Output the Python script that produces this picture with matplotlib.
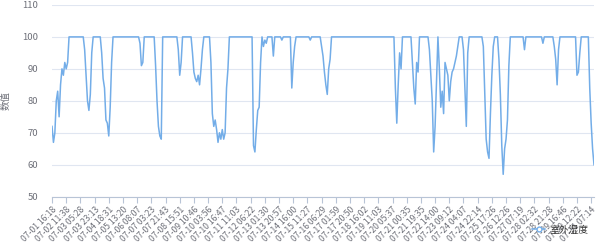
import matplotlib
matplotlib.use("Agg")
import matplotlib.pyplot as plt

plt.rcParams['font.family'] = ['Noto Sans CJK SC', 'DejaVu Sans']

# readings, 10 samples per labelled tick
humidity = [
    72, 67, 70, 80, 83, 75, 85, 90, 88, 92,
    90, 92, 100, 100, 100, 100, 100, 100, 100, 100,
    100, 100, 100, 96, 88, 80, 77, 82, 95, 100,
    100, 100, 100, 100, 100, 95, 87, 84, 74, 73,
    69, 78, 92, 100, 100, 100, 100, 100, 100, 100,
    100, 100, 100, 100, 100, 100, 100, 100, 100, 100,
    100, 100, 98, 91, 92, 100, 100, 100, 100, 100,
    100, 100, 100, 91, 80, 72, 69, 68, 100, 100,
    100, 100, 100, 100, 100, 100, 100, 100, 100, 96,
    88, 92, 100, 100, 100, 100, 100, 100, 100, 95,
    89, 87, 86, 88, 85, 90, 96, 100, 100, 100,
    100, 100, 92, 76, 72, 74, 71, 67, 70, 68,
    71, 68, 70, 84, 90, 100, 100, 100, 100, 100,
    100, 100, 100, 100, 100, 100, 100, 100, 100, 100,
    100, 100, 66, 64, 71, 77, 78, 92, 100, 97,
    99, 98, 100, 100, 100, 100, 94, 100, 100, 100,
    100, 100, 99, 100, 100, 100, 100, 100, 100, 84,
    92, 97, 100, 100, 100, 100, 100, 100, 100, 100,
    100, 100, 99, 100, 100, 100, 100, 100, 100, 100,
    97, 94, 89, 85, 82, 90, 93, 100, 100, 100,
    100, 100, 100, 100, 100, 100, 100, 100, 100, 100,
    100, 100, 100, 100, 100, 100, 100, 100, 100, 100,
    100, 100, 100, 100, 100, 100, 100, 100, 100, 100,
    100, 100, 100, 100, 100, 100, 100, 100, 100, 100,
    100, 100, 84, 73, 85, 95, 90, 100, 100, 100,
    100, 100, 100, 100, 92, 84, 79, 92, 89, 100,
    100, 100, 100, 100, 100, 100, 96, 88, 80, 64,
    72, 86, 100, 90, 78, 83, 76, 92, 90, 88,
    80, 86, 89, 90, 92, 94, 97, 100, 100, 100,
    96, 84, 72, 95, 100, 100, 100, 100, 100, 100,
    100, 100, 100, 100, 97, 83, 68, 64, 62, 76,
    88, 97, 100, 100, 100, 93, 82, 66, 57, 65,
    68, 74, 91, 100, 100, 100, 100, 100, 100, 100,
    100, 100, 100, 96, 100, 100, 100, 100, 100, 100,
    100, 100, 100, 100, 100, 100, 98, 100, 100, 100,
    100, 100, 100, 100, 97, 93, 85, 96, 100, 100,
    100, 100, 100, 100, 100, 100, 100, 100, 100, 100,
    88, 89, 95, 100, 100, 100, 100, 100, 100, 84,
    73, 65, 60,
]

tick_labels = [
    "07-01 16:18", "07-02 11:38", "07-03 05:28", "07-03 23:13", "07-04 18:31",
    "07-05 13:20", "07-06 08:07", "07-07 03:23", "07-07 21:43", "07-08 15:51",
    "07-09 10:46", "07-10 03:56", "07-10 16:47", "07-11 11:03", "07-12 06:22",
    "07-13 01:30", "07-13 20:57", "07-14 16:00", "07-15 11:27", "07-16 06:29",
    "07-17 01:59", "07-17 20:50", "07-18 16:02", "07-19 11:03", "07-20 05:37",
    "07-21 00:35", "07-21 19:35", "07-22 14:00", "07-23 09:12", "07-24 04:07",
    "07-24 22:14", "07-25 17:26", "07-26 12:26", "07-27 07:19", "07-28 02:32",
    "07-28 21:28", "07-29 16:46", "07-30 12:22", "07-31 07:14",
]
step = 10
y_ticks = [50, 60, 70, 80, 90, 100, 110]

label_color = "#6E7079"
grid_color = "#E0E6F1"
line_color = "#73ADE8"

fig = plt.figure(figsize=(6.0, 2.46), dpi=100)
ax = fig.add_axes([0.0867, 0.2004, 0.9033, 0.7796])

x = list(range(len(humidity)))
line, = ax.plot(x, humidity, color=line_color, linewidth=1.1, label="室外湿度")

ax.set_xlim(0, len(humidity) - 1)
ax.set_ylim(50, 110)
ax.set_yticks(y_ticks)
ax.set_yticklabels([str(v) for v in y_ticks], fontsize=6.8, color=label_color)
ax.yaxis.grid(True, color=grid_color, linewidth=0.8)
ax.set_axisbelow(True)

ax.set_xticks(list(range(0, len(tick_labels) * step, step)))
ax.set_xticklabels(tick_labels, rotation=45, ha="right", rotation_mode="anchor",
                   fontsize=6.2, color=label_color)

for s in ["top", "right", "left"]:
    ax.spines[s].set_visible(False)
ax.spines["bottom"].set_color("#B8C4D6")
ax.spines["bottom"].set_linewidth(0.8)
ax.tick_params(axis="y", length=0, pad=10)
ax.tick_params(axis="x", length=4, color="#B8C4D6", width=0.8, pad=2)

ax.set_ylabel("数值", fontsize=6.8, color=label_color, labelpad=8)

leg = fig.legend(handles=[line], loc="lower right", bbox_to_anchor=(0.995, 0.01),
                 frameon=False, fontsize=7, handlelength=1.4, handletextpad=0.4)
for t in leg.get_texts():
    t.set_color("#333333")
leg.legend_handles[0].set_marker("o")
leg.legend_handles[0].set_markersize(3.5)
leg.legend_handles[0].set_markerfacecolor("white")

fig.savefig("out.png", dpi=100, facecolor="white")
